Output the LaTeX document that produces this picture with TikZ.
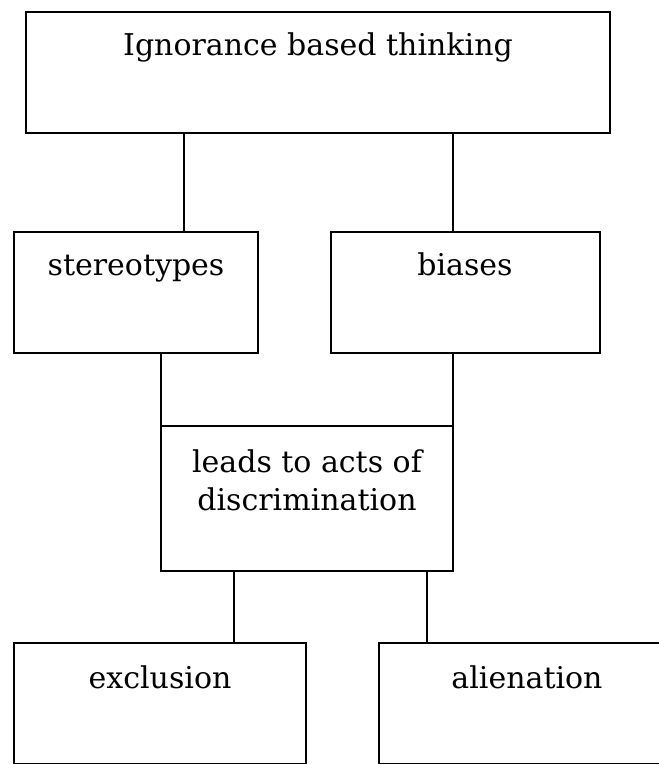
\documentclass[tikz,border=0pt]{standalone}
\usepackage{fontspec}
\setmainfont{DejaVu Serif}
\usepackage[]{xcolor}
\usepackage{tikz}

\begin{document}
\begin{tikzpicture}[x=1pt,y=-1pt,line width=1.5pt,
    box/.style={draw,rectangle,anchor=north west,inner sep=0pt,outer sep=0pt},
    txt/.style={anchor=base,inner sep=0pt,font=\fontsize{30}{38}\selectfont,align=center}]
    \useasboundingbox (0,0) rectangle (659,764);
    \node[box,minimum width=584pt,minimum height=121pt] (top)    at (26,12)  {};
    \node[box,minimum width=244pt,minimum height=121pt] (stereo) at (14,232) {};
    \node[box,minimum width=269pt,minimum height=121pt] (biases) at (331,232) {};
    \node[box,minimum width=292pt,minimum height=145pt] (lead)   at (161,426) {};
    \node[box,minimum width=292pt,minimum height=121pt] (excl)   at (14,643) {};
    \node[box,minimum width=296pt,minimum height=121pt] (alien)  at (379,643) {};
    \node[txt] (toptxt)    at (318,55)  {Ignorance based thinking};
    \node[txt] (stereotxt) at (136,275) {stereotypes};
    \node[txt] (biasestxt) at (465,275) {biases};
    \node[txt] (leadtxt)   at (307,510) {leads to acts of\\discrimination};
    \node[txt] (excltxt)   at (160,688) {exclusion};
    \node[txt] (alientxt)  at (527,688) {alienation};
    \draw     ([xshift=48pt]stereo.north) -- ([xshift=48pt]stereo.north |- top.south);
    \draw     ([xshift=-12.5pt]biases.north) -- ([xshift=-12.5pt]biases.north |- top.south);
    \draw     (lead.north west) -- (lead.north west |- stereo.south);
    \draw     (lead.north east) -- (lead.north east |- biases.south);
    \draw     ([xshift=-73pt]lead.south) -- ([xshift=-73pt]lead.south |- excl.north);
    \draw     ([xshift=120pt]lead.south) -- ([xshift=120pt]lead.south |- alien.north);
\end{tikzpicture}
\end{document}
